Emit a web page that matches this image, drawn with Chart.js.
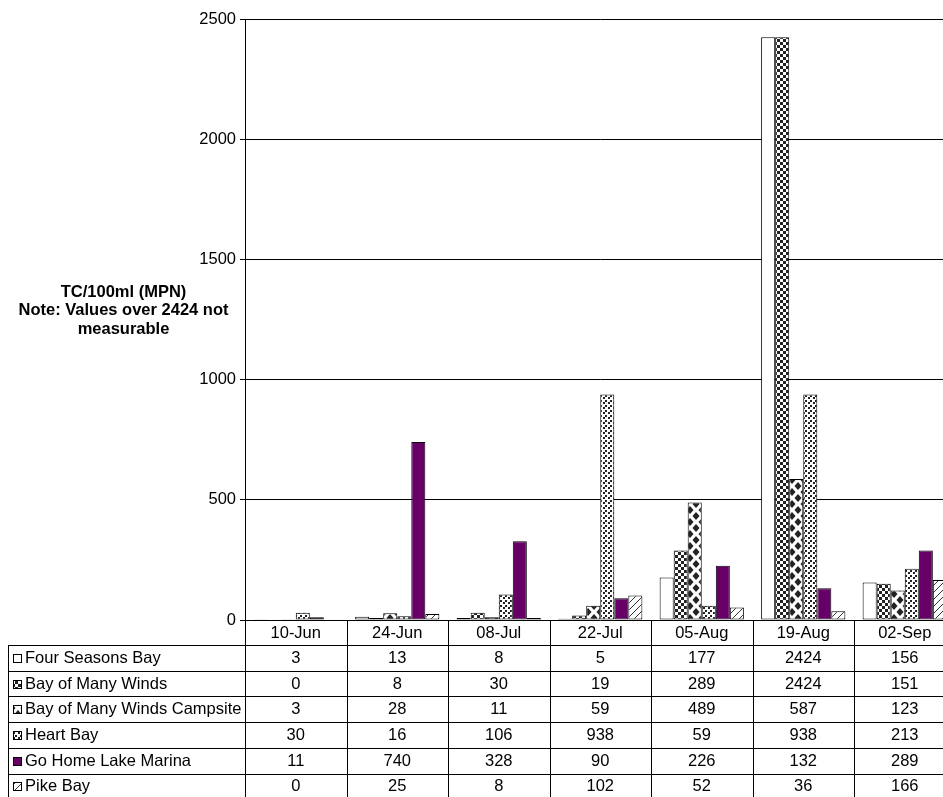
<!DOCTYPE html>
<html>
<head>
<meta charset="utf-8">
<script src="https://cdn.jsdelivr.net/npm/chart.js@4.4.0/dist/chart.umd.min.js"></script>
<style>
  body { margin: 0; background: #fff; overflow: hidden; }
  #wrap { position: relative; width: 960px; height: 797px; }
</style>
</head>
<body>
<div id="wrap"><canvas id="chart"></canvas></div>
<script>
// sampling dates (categories)
const dates = ['10-Jun', '24-Jun', '08-Jul', '22-Jul', '05-Aug', '19-Aug', '02-Sep'];

// TC/100ml per site
const fourSeasonsBay = [3, 13, 8, 5, 177, 2424, 156];
const bayOfManyWinds = [0, 8, 30, 19, 289, 2424, 151];
const bayOfManyWindsCampsite = [3, 28, 11, 59, 489, 587, 123];
const heartBay = [30, 16, 106, 938, 59, 938, 213];
const goHomeLakeMarina = [11, 740, 328, 90, 226, 132, 289];
const pikeBay = [0, 25, 8, 102, 52, 36, 166];

const siteNames = ['Four Seasons Bay', 'Bay of Many Winds', 'Bay of Many Winds Campsite',
  'Heart Bay', 'Go Home Lake Marina', 'Pike Bay'];
const siteValues = [fourSeasonsBay, bayOfManyWinds, bayOfManyWindsCampsite,
  heartBay, goHomeLakeMarina, pikeBay];

const yMax = 2500;
const yStep = 500;
const yTitle = ['TC/100ml (MPN)', 'Note: Values over 2424 not', 'measurable'];

const FONT = '"Liberation Sans", Arial, sans-serif';

// --- fill patterns, like the old Excel ones ---
function makeTile(w, h, draw) {
  const c = document.createElement('canvas');
  c.width = w; c.height = h;
  const g = c.getContext('2d');
  g.fillStyle = '#fff';
  g.fillRect(0, 0, w, h);
  draw(g);
  return document.createElement('canvas').getContext('2d').createPattern(c, 'repeat');
}

const checker = makeTile(6, 6, g => {
  g.fillStyle = '#222';
  g.fillRect(0, 0, 3, 3);
  g.fillRect(3, 3, 3, 3);
});

const diamonds = makeTile(12, 12, g => {
  g.fillStyle = '#222';
  const dia = (cx, cy) => {
    g.beginPath();
    g.moveTo(cx, cy - 4); g.lineTo(cx + 3.5, cy); g.lineTo(cx, cy + 4); g.lineTo(cx - 3.5, cy);
    g.closePath(); g.fill();
  };
  dia(6, 6); dia(0, 0); dia(12, 0); dia(0, 12); dia(12, 12);
});

const dots = makeTile(5, 5, g => {
  g.fillStyle = '#222';
  g.fillRect(0, 0, 2, 2);
  g.fillRect(3, 2, 2, 2);
});

const hatch = makeTile(7, 7, g => {
  g.strokeStyle = '#333';
  g.lineWidth = 1;
  g.beginPath();
  g.moveTo(-1, 8); g.lineTo(8, -1);
  g.stroke();
});

const fills = ['#ffffff', checker, diamonds, dots, '#660066', hatch];

const datasets = siteValues.map((vals, i) => ({
  label: siteNames[i],
  data: vals,
  backgroundColor: fills[i],
  borderColor: '#000',
  borderWidth: 1,
  borderSkipped: false,
  categoryPercentage: 0.83,
  barPercentage: 1.0
}));

// draws the y title and the data table under the plot
const tablePlugin = {
  id: 'dataTable',
  afterDraw(chart) {
    const ctx = chart.ctx;
    const area = chart.chartArea;
    const n = dates.length;
    const colW = (area.right - area.left) / n;
    const rowH = 25.7;
    const tableLeft = 8;
    const headTop = area.bottom;
    const rowsTop = headTop + 25;
    const bottom = rowsTop + rowH * siteNames.length;
    const px = v => Math.round(v) + 0.5;

    ctx.save();
    // y title
    ctx.fillStyle = '#000';
    ctx.font = 'bold 16.5px ' + FONT;
    ctx.textAlign = 'center';
    ctx.textBaseline = 'middle';
    yTitle.forEach((t, i) => ctx.fillText(t, 123.5, 292 + i * 18.5));

    // grid of the table
    ctx.strokeStyle = '#000';
    ctx.lineWidth = 1;
    ctx.beginPath();
    for (let r = 0; r <= siteNames.length; r++) {
      const y = px(rowsTop + r * rowH);
      ctx.moveTo(tableLeft, y); ctx.lineTo(chart.width, y);
    }
    ctx.moveTo(px(tableLeft), rowsTop); ctx.lineTo(px(tableLeft), bottom);
    for (let c = 0; c <= n; c++) {
      const x = px(area.left + c * colW);
      ctx.moveTo(x, headTop); ctx.lineTo(x, bottom);
    }
    ctx.stroke();

    // header row
    ctx.font = '16.5px ' + FONT;
    ctx.fillStyle = '#000';
    dates.forEach((d, c) => ctx.fillText(d, area.left + (c + 0.5) * colW, headTop + 13));

    // value rows
    siteNames.forEach((name, r) => {
      const cy = rowsTop + (r + 0.5) * rowH + 0.5;
      // legend key
      ctx.fillStyle = fills[r];
      ctx.fillRect(13, Math.round(cy - 4.5), 9, 9);
      ctx.strokeRect(13.5, Math.round(cy - 4.5) + 0.5, 8, 8);
      ctx.fillStyle = '#000';
      ctx.textAlign = 'left';
      ctx.fillText(name, 25, cy);
      ctx.textAlign = 'center';
      siteValues[r].forEach((v, c) => ctx.fillText(String(v), area.left + (c + 0.5) * colW, cy));
    });
    ctx.restore();
  }
};

new Chart(document.getElementById('chart'), {
  type: 'bar',
  data: { labels: dates, datasets: datasets },
  plugins: [tablePlugin],
  options: {
    responsive: true,
    maintainAspectRatio: false,
    animation: false,
    layout: { padding: { top: 19, right: 4.5, left: 0, bottom: 0 } },
    plugins: {
      legend: { display: false },
      tooltip: { enabled: false }
    },
    scales: {
      x: {
        ticks: { display: false },
        grid: { display: false, drawTicks: false },
        border: { display: false },
        afterFit(scale) { scale.height = 177; }
      },
      y: {
        min: 0,
        max: yMax,
        ticks: {
          stepSize: yStep,
          color: '#000',
          padding: 4,
          font: { family: FONT, size: 16.5 },
          callback: v => String(v)
        },
        grid: { color: '#000', lineWidth: 1, tickLength: 5, tickColor: '#000' },
        border: { color: '#000', width: 1 },
        afterFit(scale) { scale.width = 245; }
      }
    }
  }
});
</script>
</body>
</html>
